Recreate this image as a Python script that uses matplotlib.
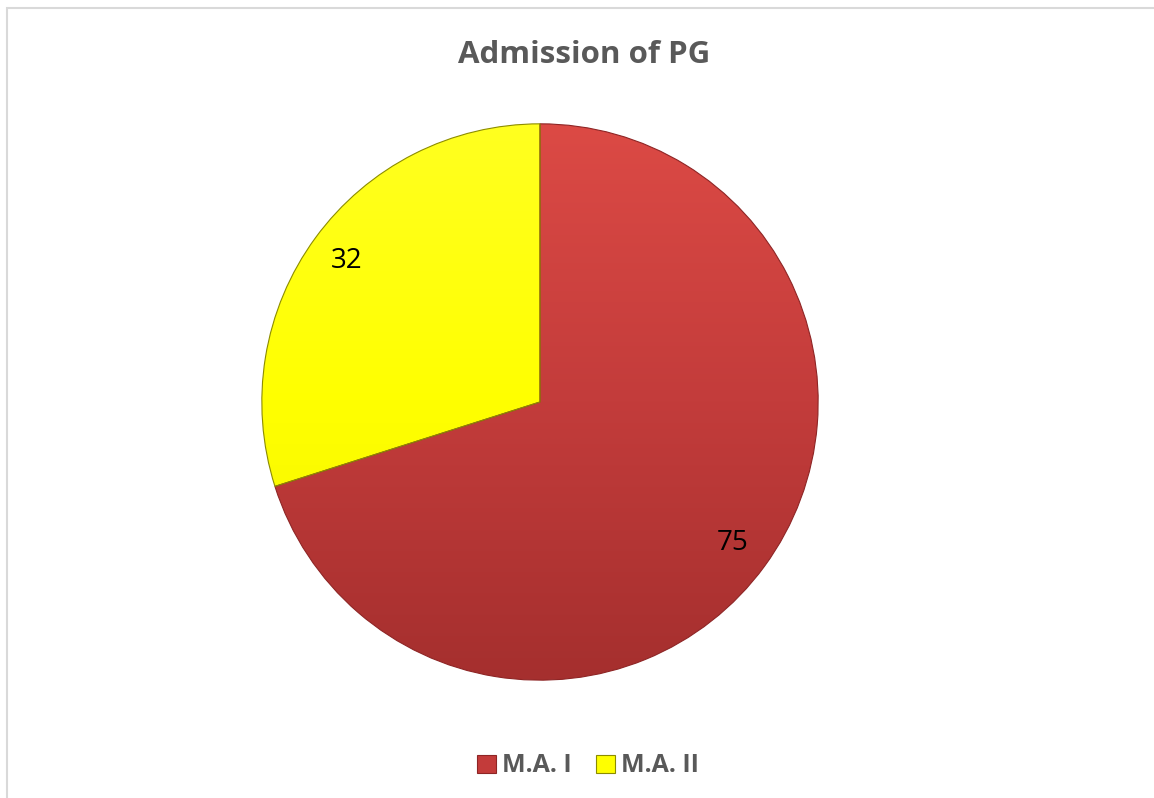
import matplotlib.pyplot as plt
import numpy as np
from matplotlib.colors import LinearSegmentedColormap
from matplotlib.patches import Rectangle

# --- chart data ---
title = "Admission of PG"
categories = ["M.A. I", "M.A. II"]
values = [75, 32]
colors = ["#C33B3A", "#FFFF00"]
edge_colors = ["#8E2525", "#8C8C00"]

W, H = 1154, 798
fig = plt.figure(figsize=(W / 100, H / 100), dpi=100)
fig.patch.set_facecolor("white")

# light grey frame of the chart area (only top/left visible in the source)
fig.patches.append(Rectangle((7 / W, -0.1), 1.2, 1 - 8 / H + 0.1,
                             transform=fig.transFigure, fill=False,
                             edgecolor="#D9D9D9", linewidth=1.5))

# pie placed in pixel terms: centre (540, 402), radius 279
cx, cy, r = 540, 402, 279
ax = fig.add_axes([(cx - r) / W, 1 - (cy + r) / H, 2 * r / W, 2 * r / H])

wedges, texts, autotexts = ax.pie(
    values, startangle=90, counterclock=False, colors=colors,
    autopct=lambda p: "%d" % round(p * sum(values) / 100),
    pctdistance=0.86,
    wedgeprops=dict(edgecolor="none", linewidth=0),
    textprops=dict(fontsize=20, color="black", family="Open Sans"))

# soft top-to-bottom shading like the 3D-ish office look
grads = [
    LinearSegmentedColormap.from_list("r", ["#A52F2E", "#C33C3B", "#DC4A45"]),
    LinearSegmentedColormap.from_list("y", ["#F2F200", "#FFFF00", "#FFFF20"]),
]
ramp = np.linspace(0, 1, 256).reshape(-1, 1)
for w, cmap, ec in zip(wedges, grads, edge_colors):
    im = ax.imshow(ramp, cmap=cmap, extent=(-1, 1, -1, 1), origin="lower",
                   aspect="auto", zorder=w.get_zorder() + 0.1)
    im.set_clip_path(w)
    w.set_edgecolor(ec)
    w.set_linewidth(0.8)
    w.set_fill(False)
    w.set_zorder(w.get_zorder() + 0.2)
for t in autotexts:
    t.set_zorder(5)
ax.set_xlim(-1.003, 1.003)
ax.set_ylim(-1.003, 1.003)
ax.axis("off")

fig.text(584 / W, 1 - 55 / H, title, ha="center", va="center",
         fontsize=22.5, fontweight="bold", color="#595959", family="Open Sans")

handles = [plt.Rectangle((0, 0), 1, 1, facecolor=c, edgecolor=e, linewidth=0.8)
           for c, e in zip(colors, edge_colors)]
fig.legend(handles, categories, loc="center", bbox_to_anchor=(588 / W, 1 - 766 / H),
           ncol=2, frameon=False, handlelength=0.75, handleheight=0.75,
           handletextpad=0.25, columnspacing=1.0,
           prop=dict(family="Open Sans", weight="bold", size=18), labelcolor="#595959")

fig.savefig("out.png", dpi=100)
